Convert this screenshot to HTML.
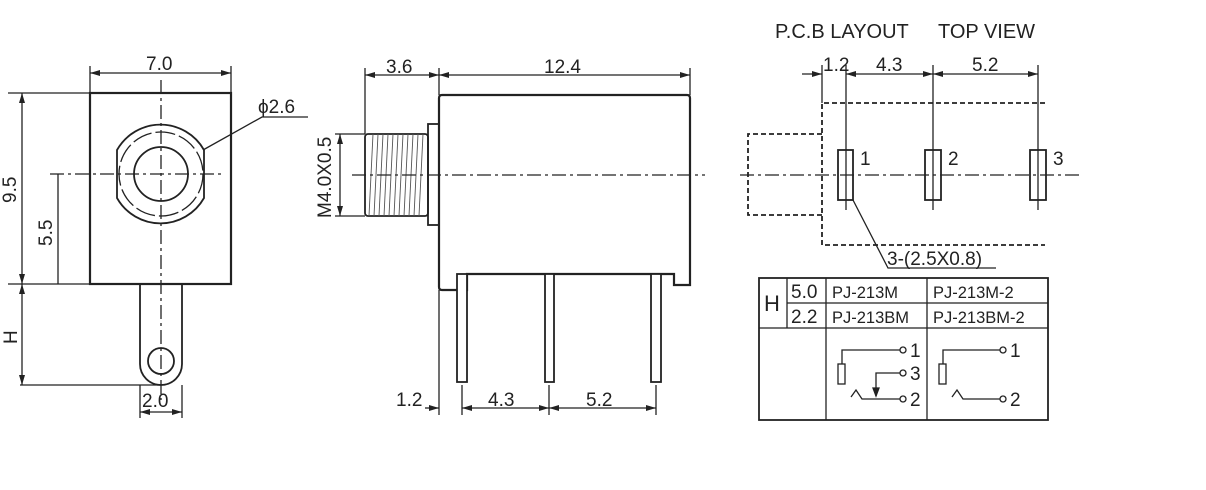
<!DOCTYPE html>
<html><head><meta charset="utf-8"><style>
html,body{margin:0;padding:0;background:#fff;}
svg{display:block;}
text{font-family:"Liberation Sans",sans-serif;fill:#222;}
</style></head><body>
<svg width="1206" height="490" viewBox="0 0 1206 490" xmlns="http://www.w3.org/2000/svg">
<defs>
<marker id="a" viewBox="0 0 10 6" refX="10" refY="3" markerWidth="11" markerHeight="6" orient="auto-start-reverse" markerUnits="userSpaceOnUse"><path d="M0,0 L10,3 L0,6 z" fill="#222"/></marker>
</defs>
<g stroke="#222" fill="none" stroke-width="1.3">
<!-- LEFT VIEW -->
<rect x="90" y="93" width="141" height="191" stroke-width="2.2"/>
<line x1="161" y1="80" x2="161" y2="400" stroke-dasharray="14,4,3,4"/>
<line x1="50" y1="174" x2="222" y2="174" stroke-dasharray="14,4,3,4"/>
<path d="M117,150 A50,50 0 0 1 204,150 L204,198 A50,50 0 0 1 117,198 Z" stroke-width="1.8"/>
<circle cx="161" cy="174" r="42" stroke-dasharray="20,4"/>
<circle cx="161" cy="174" r="27" stroke-width="1.8"/>
<path d="M140,284 L140,364 A21,21 0 0 0 182,364 L182,284" stroke-width="1.8"/>
<circle cx="161" cy="361" r="13" stroke-width="1.8"/>
<line x1="90" y1="66" x2="90" y2="93"/><line x1="231" y1="66" x2="231" y2="93"/>
<line x1="90" y1="73" x2="231" y2="73" marker-start="url(#a)" marker-end="url(#a)"/>
<line x1="8" y1="93" x2="90" y2="93"/>
<line x1="22" y1="93" x2="22" y2="284" marker-start="url(#a)" marker-end="url(#a)"/>
<line x1="8" y1="284" x2="90" y2="284"/>
<line x1="58" y1="174" x2="58" y2="284"/>
<line x1="22" y1="284" x2="22" y2="385" marker-start="url(#a)" marker-end="url(#a)"/>
<line x1="20" y1="385" x2="161" y2="385"/>
<line x1="140" y1="385" x2="140" y2="418"/><line x1="182" y1="385" x2="182" y2="418"/>
<line x1="140" y1="412" x2="182" y2="412" marker-start="url(#a)" marker-end="url(#a)"/>
<polyline points="203,150 262,117 308,117"/>
<!-- MIDDLE VIEW -->
<path d="M442,95 L687,95 Q690,95 690,98 L690,285 L674,285 L674,274 L467,274 L467,290 L442,290 Q439,290 439,287 L439,98 Q439,95 442,95 Z" stroke-width="2.2"/>
<rect x="428" y="124" width="11" height="101" stroke-width="1.8"/>
<rect x="365" y="134" width="63" height="82" rx="3" stroke-width="1.8"/>
<g stroke-width="0.9" stroke="#555">
<line x1="369" y1="216" x2="373" y2="134"/><line x1="374" y1="216" x2="378" y2="134"/><line x1="379" y1="216" x2="383" y2="134"/><line x1="384" y1="216" x2="388" y2="134"/><line x1="389" y1="216" x2="393" y2="134"/><line x1="394" y1="216" x2="398" y2="134"/><line x1="399" y1="216" x2="403" y2="134"/><line x1="404" y1="216" x2="408" y2="134"/><line x1="409" y1="216" x2="413" y2="134"/><line x1="414" y1="216" x2="418" y2="134"/><line x1="419" y1="216" x2="423" y2="134"/>
</g>
<line x1="352" y1="175" x2="705" y2="175" stroke-dasharray="14,4,3,4"/>
<rect x="457" y="274" width="10" height="108" fill="#fff" stroke-width="1.8"/>
<rect x="545" y="274" width="9" height="108" fill="#fff" stroke-width="1.8"/>
<rect x="651" y="274" width="10" height="108" fill="#fff" stroke-width="1.8"/>
<line x1="365" y1="68" x2="365" y2="134"/><line x1="439" y1="68" x2="439" y2="95"/><line x1="690" y1="68" x2="690" y2="95"/>
<line x1="365" y1="75" x2="439" y2="75" marker-start="url(#a)" marker-end="url(#a)"/>
<line x1="439" y1="75" x2="690" y2="75" marker-start="url(#a)" marker-end="url(#a)"/>
<line x1="335" y1="134" x2="365" y2="134"/><line x1="335" y1="216" x2="365" y2="216"/>
<line x1="340" y1="134" x2="340" y2="216" marker-start="url(#a)" marker-end="url(#a)"/>
<line x1="439" y1="290" x2="439" y2="415"/><line x1="462" y1="385" x2="462" y2="415"/><line x1="549" y1="385" x2="549" y2="415"/><line x1="656" y1="385" x2="656" y2="415"/>
<line x1="425" y1="408" x2="439" y2="408" marker-end="url(#a)"/>
<line x1="462" y1="408" x2="549" y2="408" marker-start="url(#a)" marker-end="url(#a)"/>
<line x1="549" y1="408" x2="656" y2="408" marker-start="url(#a)" marker-end="url(#a)"/>
<!-- RIGHT VIEW -->
<line x1="822" y1="65" x2="822" y2="103"/><line x1="846" y1="65" x2="846" y2="210"/><line x1="933" y1="65" x2="933" y2="210"/><line x1="1038" y1="65" x2="1038" y2="210"/>
<line x1="802" y1="74" x2="822" y2="74" marker-end="url(#a)"/>
<line x1="846" y1="74" x2="933" y2="74" marker-start="url(#a)" marker-end="url(#a)"/>
<line x1="933" y1="74" x2="1038" y2="74" marker-start="url(#a)" marker-end="url(#a)"/>
<polyline points="1045,103 822,103 822,245 1045,245" stroke-dasharray="5,3" stroke-width="1.8"/>
<polyline points="822,134 748,134 748,215 822,215" stroke-dasharray="5,3" stroke-width="1.8"/>
<line x1="740" y1="175" x2="1080" y2="175" stroke-dasharray="14,4,3,4"/>
<rect x="838" y="150" width="15" height="50" stroke-width="1.8"/>
<rect x="925" y="150" width="16" height="50" stroke-width="1.8"/>
<rect x="1030" y="150" width="16" height="50" stroke-width="1.8"/>
<polyline points="853,200 888,268 996,268"/>
<!-- TABLE -->
<rect x="759" y="278" width="289" height="142" stroke-width="1.8"/>
<line x1="787" y1="278" x2="787" y2="328"/><line x1="826" y1="278" x2="826" y2="420"/><line x1="927" y1="278" x2="927" y2="420"/>
<line x1="787" y1="303" x2="1048" y2="303"/><line x1="759" y1="328" x2="1048" y2="328"/>
<polyline points="842,364 842,350 900,350"/><circle cx="903" cy="350" r="3"/>
<rect x="838" y="364" width="7" height="20"/>
<polyline points="876,396 876,373 900,373"/><circle cx="903" cy="373" r="3"/>
<path d="M873,388 L876,396 L879,388 Z" fill="#222"/>
<polyline points="851,397 856,390 862,399 900,399"/><circle cx="903" cy="399" r="3"/>
<polyline points="943,364 943,350 1000,350"/><circle cx="1003" cy="350" r="3"/>
<rect x="939" y="364" width="7" height="20"/>
<polyline points="952,397 957,390 963,399 1000,399"/><circle cx="1003" cy="399" r="3"/>
</g>
<g font-size="19">
<text x="146" y="70">7.0</text>
<text x="258" y="113">ϕ2.6</text>
<text x="142" y="407">2.0</text>
<text transform="translate(16,203) rotate(-90)">9.5</text>
<text transform="translate(52,246) rotate(-90)">5.5</text>
<text transform="translate(17,344) rotate(-90)">H</text>
<text x="386" y="73">3.6</text>
<text x="544" y="73">12.4</text>
<text transform="translate(331,218) rotate(-90)">M4.0X0.5</text>
<text x="396" y="406">1.2</text>
<text x="488" y="406">4.3</text>
<text x="586" y="406">5.2</text>
<text x="775" y="38" font-size="20">P.C.B LAYOUT</text>
<text x="938" y="38" font-size="20">TOP VIEW</text>
<text x="823" y="71">1.2</text>
<text x="876" y="71">4.3</text>
<text x="972" y="71">5.2</text>
<text x="860" y="165">1</text>
<text x="948" y="165">2</text>
<text x="1053" y="165">3</text>
<text x="887" y="265">3-(2.5X0.8)</text>
<text x="764" y="311" font-size="22">H</text>
<text x="791" y="298">5.0</text>
<text x="791" y="323">2.2</text>
<text x="832" y="298" font-size="16.5">PJ-213M</text>
<text x="933" y="298" font-size="16.5">PJ-213M-2</text>
<text x="832" y="323" font-size="16.5">PJ-213BM</text>
<text x="933" y="323" font-size="16.5">PJ-213BM-2</text>
<text x="910" y="357">1</text><text x="910" y="380">3</text><text x="910" y="406">2</text>
<text x="1010" y="357">1</text><text x="1010" y="406">2</text>
</g>
</svg>
</body></html>
